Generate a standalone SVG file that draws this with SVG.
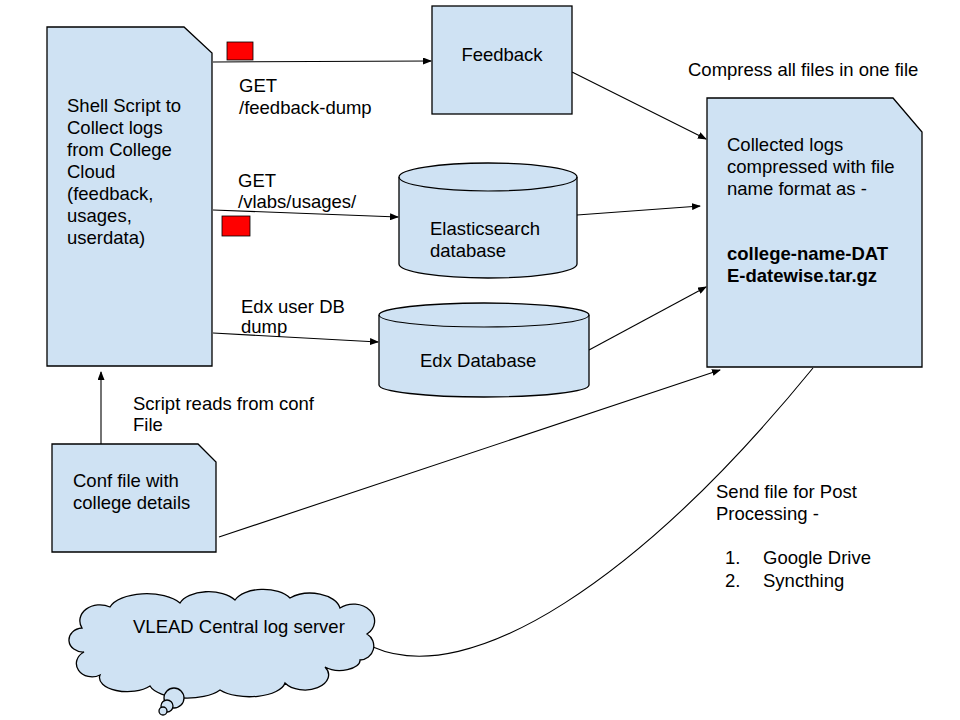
<svg xmlns="http://www.w3.org/2000/svg" width="960" height="720" viewBox="0 0 960 720">
<defs>
<style>
.shape{fill:#cfe2f3;stroke:#000;stroke-width:1.3}
.edge{fill:none;stroke:#000;stroke-width:1.1}
.t{font-family:"Liberation Sans",Arial,sans-serif;font-size:18.5px;fill:#000}
.b{font-weight:bold}
.red{fill:#ff0000;stroke:#000;stroke-width:0.8}
</style>
<marker id="ah" markerUnits="userSpaceOnUse" markerWidth="9" markerHeight="7" refX="8" refY="3.5" orient="auto">
<path d="M0,0 L9,3.5 L0,7 Z" fill="#000"/>
</marker>
</defs>
<rect width="960" height="720" fill="#fff"/>

<g id="connectors">
<line class="edge" x1="213" y1="62" x2="431" y2="61" marker-end="url(#ah)"/>
<line class="edge" x1="213" y1="210" x2="398" y2="217" marker-end="url(#ah)"/>
<line class="edge" x1="213" y1="333" x2="378" y2="342" marker-end="url(#ah)"/>
<line class="edge" x1="101" y1="444" x2="101" y2="372" marker-end="url(#ah)"/>
<line class="edge" x1="572" y1="72" x2="706" y2="139" marker-end="url(#ah)"/>
<line class="edge" x1="577" y1="215" x2="700" y2="206" marker-end="url(#ah)"/>
<line class="edge" x1="589" y1="350" x2="706" y2="287" marker-end="url(#ah)"/>
<line class="edge" x1="219" y1="537" x2="720" y2="370" marker-end="url(#ah)"/>
<path class="edge" d="M373,647 C470,690 640,580 813,368"/>
</g>

<g id="shell-script">
<path class="shape" d="M47,27 L184,27 L212,53 L212,366 L47,366 Z"/>
<text class="t" x="67" y="112">Shell Script to</text>
<text class="t" x="67" y="134">Collect logs</text>
<text class="t" x="67" y="156">from College</text>
<text class="t" x="67" y="178">Cloud</text>
<text class="t" x="67" y="200">(feedback,</text>
<text class="t" x="67" y="222">usages,</text>
<text class="t" x="67" y="244">userdata)</text>
</g>

<g id="red-marker-1"><rect class="red" x="227" y="42" width="26" height="18"/></g>
<g id="red-marker-2"><rect class="red" x="222" y="216" width="28" height="20"/></g>

<g id="feedback">
<rect class="shape" x="432" y="6" width="140" height="108"/>
<text class="t" x="502" y="61" text-anchor="middle">Feedback</text>
</g>

<g id="label-get-feedback">
<text class="t" x="239" y="92">GET</text>
<text class="t" x="239" y="114">/feedback-dump</text>
</g>

<g id="label-get-usages">
<text class="t" x="238" y="187">GET</text>
<text class="t" x="238" y="208">/vlabs/usages/</text>
</g>

<g id="elasticsearch">
<path class="shape" d="M399,177 A89,14 0 0 1 577,177 L577,264 A89,14 0 0 1 399,264 Z"/>
<path class="edge" d="M399,177 A89,14 0 0 0 577,177"/>
<text class="t" x="430" y="235">Elasticsearch</text>
<text class="t" x="430" y="257">database</text>
</g>

<g id="label-edx-dump">
<text class="t" x="241" y="313">Edx user DB</text>
<text class="t" x="241" y="333">dump</text>
</g>

<g id="edx-database">
<path class="shape" d="M379,315 A105,12 0 0 1 589,315 L589,385 A105,12 0 0 1 379,385 Z"/>
<path class="edge" d="M379,315 A105,12 0 0 0 589,315"/>
<text class="t" x="420" y="367">Edx Database</text>
</g>

<g id="label-compress">
<text class="t" x="688" y="76">Compress all files in one file</text>
</g>

<g id="collected-logs">
<path class="shape" d="M707,98 L893,98 L922,132 L922,367 L707,367 Z"/>
<text class="t" x="727" y="151">Collected logs</text>
<text class="t" x="727" y="173">compressed with file</text>
<text class="t" x="727" y="195">name format as -</text>
<text class="t b" x="727" y="260">college-name-DAT</text>
<text class="t b" x="727" y="282">E-datewise.tar.gz</text>
</g>

<g id="label-reads-conf">
<text class="t" x="133" y="410">Script reads from conf</text>
<text class="t" x="133" y="431">File</text>
</g>

<g id="conf-file">
<path class="shape" d="M52,444 L198,444 L216,462 L216,552 L52,552 Z"/>
<text class="t" x="73" y="487">Conf file with</text>
<text class="t" x="73" y="509">college details</text>
</g>

<g id="label-send">
<text class="t" x="716" y="498">Send file for Post</text>
<text class="t" x="716" y="520">Processing -</text>
<text class="t" x="725" y="564">1.</text>
<text class="t" x="763" y="564">Google Drive</text>
<text class="t" x="725" y="587">2.</text>
<text class="t" x="763" y="587">Syncthing</text>
</g>

<g id="vlead-cloud">
<path class="shape" d="M82,628 A20,16 0 0 1 110,607 A38,18 0 0 1 180,603 A30,16 0 0 1 235,600 A30,16 0 0 1 290,598 A30,18 0 0 1 340,608 A20,16 0 0 1 367,634 A14,14 0 0 1 360,660 A20,10 0 0 1 325,667 A22,14 0 0 1 285,683 A36,16 0 0 1 220,690 A38,16 0 0 1 150,686 A28,14 0 0 1 100,675 A14,12 0 0 1 84,652 A14,12 0 0 1 82,628 Z"/>
<circle class="shape" cx="174" cy="698" r="10"/>
<circle class="shape" cx="167" cy="706" r="6"/>
<circle class="shape" cx="163" cy="711" r="4"/>
<text class="t" x="133" y="633">VLEAD Central log server</text>
</g>
</svg>
